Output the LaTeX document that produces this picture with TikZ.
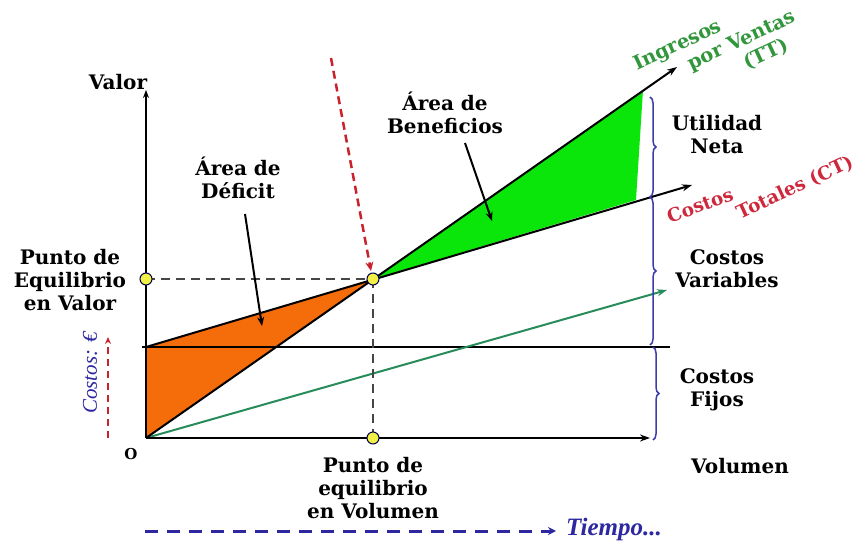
\documentclass[tikz,border=0pt]{standalone}
\usepackage{fontspec}
\setmainfont{DejaVu Serif}
\newfontfamily\timesfont{Liberation Serif}
\usetikzlibrary{arrows.meta,decorations.pathreplacing}
\definecolor{orangefill}{RGB}{245,108,10}
\definecolor{greenfill}{RGB}{10,230,10}
\definecolor{vcgreen}{RGB}{40,140,90}
\definecolor{ttgreen}{RGB}{50,150,60}
\definecolor{redarrow}{RGB}{200,35,45}
\definecolor{redtext}{RGB}{205,40,60}
\definecolor{bracecol}{RGB}{60,60,170}
\definecolor{bluetext}{RGB}{45,40,160}
\definecolor{dotfill}{RGB}{240,240,70}
\definecolor{dashgrey}{RGB}{70,70,70}
\begin{document}
\begin{tikzpicture}[x=1pt,y=-1pt,
  lbl/.style={font=\fontsize{20}{23}\selectfont\bfseries, align=center, inner sep=0pt},
  rlbl/.style={font=\fontsize{18.5}{22}\selectfont\bfseries, text=redtext, inner sep=0pt},
  glbl/.style={font=\fontsize{19.5}{22}\selectfont\bfseries, text=ttgreen, inner sep=0pt},
  mainline/.style={line width=2pt, black},
  tip/.style={-{Stealth[length=10pt,width=7pt]}},
  guide/.style={line width=2.5pt, dashgrey, dash pattern=on 9pt off 6pt},
  dot/.style={circle, draw=black!70!blue, line width=1pt, fill=dotfill, minimum size=12pt, inner sep=0pt},
  bracestyle/.style={decorate, decoration={brace, amplitude=6pt}, bracecol, line width=1.5pt}
]
\useasboundingbox (0,0) rectangle (855,548);
\fill[white] (0,0) rectangle (855,548);

% key points
\coordinate (O) at (146,438);
\coordinate (F) at (146,347);
\coordinate (B) at (373,279);
\coordinate (Ytop) at (146,90);
\coordinate (Xend) at (650,438);
\coordinate (TTend) at (677,67);
\coordinate (CTend) at (692,185);
\coordinate (VCend) at (667,290);
\coordinate (Fstart) at (142,347);
\coordinate (Fend) at (670,347);
\coordinate (G1) at (643,90);
\coordinate (G2) at (636,200);
\coordinate (YP) at (146,279);
\coordinate (XP) at (373,438);

% areas
\fill[orangefill] (O) -- (F) -- (B) -- cycle;
\fill[greenfill] (B) -- (G1) -- (G2) -- cycle;

% lines
\draw[mainline] (Fstart) -- (Fend);
\draw[line width=2pt, vcgreen, tip] (O) -- (VCend);
\draw[mainline, tip] (O) -- (TTend);
\draw[mainline, tip] (F) -- (CTend);
\draw[mainline, -{Stealth[length=8pt,width=6pt]}] (O) -- (Ytop);
\draw[mainline, tip] (O) -- (Xend);

% guides
\draw[guide] (YP) -- (B);
\draw[guide] (B) -- (XP);

% red dashed arrow
\coordinate (R1) at (331,58);
\coordinate (R2) at (371,271);
\draw[line width=2.5pt, redarrow, dash pattern=on 8pt off 5pt, -{Stealth[length=9pt,width=8pt]}] (R1) -- (R2);

\node[dot] (dB) at (B) {};
\node[dot] (dY) at (YP) {};
\node[dot] (dX) at (XP) {};

% braces
\draw[bracestyle] (650,97) -- (650,197);
\draw[bracestyle] (650,197) -- (650,345);
\draw[bracestyle] (653,347) -- (653,440);

% labels
\node[lbl] (valor) at (118,82) {Valor};
\node[lbl] (pev) at (70,280) {Punto de\\Equilibrio\\en Valor};
\node[lbl] (pevol) at (373,488) {Punto de\\equilibrio\\en Volumen};
\node[lbl] (vol) at (740,466) {Volumen};
\node[font=\fontsize{15}{15}\selectfont\bfseries, inner sep=0pt] (o) at (131,454) {O};
\node[lbl] (adef) at (238,178) {Área de\\Déficit};
\node[lbl] (aben) at (445,113) {Área de\\Beneficios};
\node[lbl] (util) at (717,135) {Utilidad\\Neta};
\node[lbl] (cvar) at (727,269) {Costos\\Variables};
\node[lbl] (cfij) at (717,390) {Costos\\Fijos};

\coordinate (D1) at (245,214);
\coordinate (D2) at (262,326);
\draw[line width=2pt, black, -{Stealth[length=9pt,width=7pt]}] (D1) -- (D2);
\coordinate (E1) at (465,143);
\coordinate (E2) at (492,221);
\draw[line width=2pt, black, -{Stealth[length=9pt,width=7pt]}] (E1) -- (E2);

% rotated line labels
\node[glbl, rotate=25] (ing1) at (678,46) {Ingresos};
\node[glbl, rotate=25] (ing2) at (742,41) {por Ventas};
\node[glbl, rotate=25] (ing3) at (766,54) {(TT)};
\node[rlbl, rotate=20] (ct1) at (700,205) {Costos};
\node[rlbl, rotate=25] (ct2) at (795,188) {Totales (CT)};

% costs axis label
\node[font=\timesfont\itshape\fontsize{21}{21}\selectfont, text=bluetext, rotate=90, inner sep=0pt] (ce) at (90,373) {Costos: €};
\coordinate (C1) at (108,438);
\coordinate (C2) at (108,337);
\draw[line width=2.2pt, redarrow, dash pattern=on 7pt off 5pt, -{Stealth[length=7pt,width=6pt]}] (C1) -- (C2);

% time arrow
\coordinate (T1) at (145,531);
\coordinate (T2) at (556,531);
\draw[line width=3pt, bluetext, dash pattern=on 13pt off 9pt, -{Stealth[length=8pt,width=8pt]}] (T1) -- (T2);
\node[font=\timesfont\bfseries\itshape\fontsize{25}{25}\selectfont, text=bluetext, anchor=west, inner sep=0pt] (tiempo) at (566,529) {Tiempo...};
\end{tikzpicture}
\end{document}
